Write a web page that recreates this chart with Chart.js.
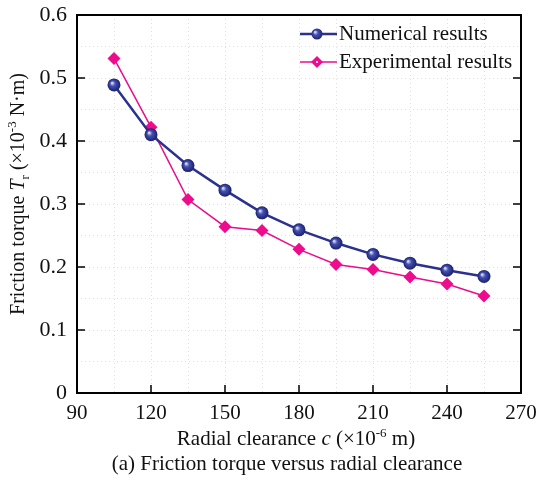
<!DOCTYPE html>
<html>
<head>
<meta charset="utf-8">
<script src="https://cdn.jsdelivr.net/npm/chart.js@4.4.1/dist/chart.umd.min.js"></script>
<style>
  html, body { margin: 0; padding: 0; background: #fff; }
  #wrap { width: 537px; height: 480px; }
</style>
</head>
<body>
<div id="wrap"><canvas id="torqueChart" width="537" height="480"></canvas></div>
<script>
// radial clearance c (x10^-6 m)
const clearance = [105, 120, 135, 150, 165, 180, 195, 210, 225, 240, 255];
// friction torque (x10^-3 N.m)
const numerical = [0.489, 0.410, 0.361, 0.322, 0.286, 0.259, 0.238, 0.220, 0.206, 0.195, 0.185];
const experimental = [0.531, 0.422, 0.307, 0.264, 0.258, 0.228, 0.204, 0.196, 0.184, 0.173, 0.154];
const xTicks = [90, 120, 150, 180, 210, 240, 270];
const yTicks = [0, 0.1, 0.2, 0.3, 0.4, 0.5, 0.6];

const SERIF = '"Liberation Serif", "DejaVu Serif", serif';
const navy = '#2b3190';
const magenta = '#ec0c8c';

function toPoints(xs, ys) {
  return xs.map((x, i) => ({ x: x, y: ys[i] }));
}

function ballFill(ctx) {
  const ch = ctx.chart;
  if (!ch.scales || !ch.scales.x || !ctx.parsed) return navy;
  const px = ch.scales.x.getPixelForValue(ctx.parsed.x);
  const py = ch.scales.y.getPixelForValue(ctx.parsed.y);
  if (!isFinite(px) || !isFinite(py)) return navy;
  return sphere(ch.ctx, px, py, 6.5);
}

function sphere(c, px, py, r) {
  const g = c.createRadialGradient(px - 2, py - 2, 0.5, px, py, r);
  g.addColorStop(0, '#d6dbf5');
  g.addColorStop(0.35, '#4450b4');
  g.addColorStop(1, '#1b206a');
  return g;
}

// draws text pieces one after another (sub/superscripts, italics)
function richText(c, parts, x, y, align) {
  let total = 0;
  parts.forEach(p => { c.font = p.font; total += c.measureText(p.text).width; });
  let cx = align === 'center' ? x - total / 2 : x;
  parts.forEach(p => {
    c.font = p.font;
    c.fillText(p.text, cx, y + (p.dy || 0));
    cx += c.measureText(p.text).width;
  });
}

const big = '21px ' + SERIF;
const bigIt = 'italic 21px ' + SERIF;
const small = '13px ' + SERIF;

const decorations = {
  id: 'decorations',
  afterDraw(chart) {
    const c = chart.ctx;
    const a = chart.chartArea;
    const xs = chart.scales.x, ys = chart.scales.y;
    c.save();
    c.strokeStyle = '#000';
    c.lineWidth = 2;
    c.strokeRect(a.left, a.top, a.right - a.left, a.bottom - a.top);

    // inward tick marks
    c.lineWidth = 1.5;
    c.beginPath();
    xTicks.forEach(v => {
      const px = xs.getPixelForValue(v);
      c.moveTo(px, a.bottom); c.lineTo(px, a.bottom - 8);
    });
    yTicks.forEach(v => {
      const py = ys.getPixelForValue(v);
      c.moveTo(a.left, py); c.lineTo(a.left + 8, py);
      c.moveTo(a.right, py); c.lineTo(a.right - 8, py);
    });
    c.stroke();

    c.fillStyle = '#111';
    c.textBaseline = 'alphabetic';

    // x title
    richText(c, [
      { text: 'Radial clearance ', font: big },
      { text: 'c', font: bigIt },
      { text: ' (×10', font: big },
      { text: '-6', font: small, dy: -8 },
      { text: ' m)', font: big }
    ], 296, 445, 'center');

    // caption
    c.font = big;
    c.textAlign = 'center';
    c.fillText('(a) Friction torque versus radial clearance', 287, 470);
    c.textAlign = 'left';

    // y title
    c.save();
    c.translate(24, 194);
    c.rotate(-Math.PI / 2);
    richText(c, [
      { text: 'Friction torque ', font: '20px ' + SERIF },
      { text: 'T', font: 'italic 20px ' + SERIF },
      { text: 'r', font: small, dy: 5 },
      { text: ' (×10', font: '20px ' + SERIF },
      { text: '-3', font: small, dy: -8 },
      { text: ' N·m)', font: '20px ' + SERIF }
    ], 0, 0, 'center');
    c.restore();

    // legend
    const rows = [
      { y: 34, ds: chart.data.datasets[0] },
      { y: 62, ds: chart.data.datasets[1] }
    ];
    rows.forEach((r, i) => {
      c.strokeStyle = r.ds.borderColor;
      c.lineWidth = r.ds.borderWidth;
      c.beginPath();
      c.moveTo(300, r.y); c.lineTo(337, r.y);
      c.stroke();
      if (i === 0) {
        c.fillStyle = sphere(c, 317, r.y, 6);
        c.beginPath(); c.arc(317, r.y, 5.5, 0, Math.PI * 2); c.fill();
      } else {
        c.fillStyle = magenta;
        c.beginPath();
        c.moveTo(317, r.y - 6); c.lineTo(323, r.y); c.lineTo(317, r.y + 6); c.lineTo(311, r.y);
        c.closePath(); c.fill();
        c.fillStyle = '#ffd0ea';
        c.fillRect(316, r.y - 1, 2, 2);
      }
      c.fillStyle = '#111';
      c.font = big;
      c.textBaseline = 'middle';
      c.fillText(r.ds.label, 339, r.y);
    });
    c.restore();
  }
};

new Chart(document.getElementById('torqueChart'), {
  type: 'line',
  data: {
    datasets: [
      {
        label: 'Numerical results',
        data: toPoints(clearance, numerical),
        borderColor: navy,
        borderWidth: 2.5,
        pointStyle: 'circle',
        pointRadius: 6.5,
        pointBorderWidth: 0,
        pointBackgroundColor: ballFill,
        tension: 0
      },
      {
        label: 'Experimental results',
        data: toPoints(clearance, experimental),
        borderColor: magenta,
        borderWidth: 1.5,
        pointStyle: 'rectRot',
        pointRadius: 6.5,
        pointBorderWidth: 0,
        pointBackgroundColor: magenta,
        tension: 0
      }
    ]
  },
  options: {
    responsive: false,
    animation: false,
    devicePixelRatio: 1,
    layout: { padding: { left: 0, right: 16, top: 15, bottom: 0 } },
    plugins: {
      legend: { display: false },
      tooltip: { enabled: false }
    },
    scales: {
      x: {
        type: 'linear',
        min: 90,
        max: 270,
        afterFit: s => { s.height = 87; s.paddingLeft = 0; s.paddingRight = 0; },
        ticks: {
          stepSize: 15,
          padding: 8,
          maxRotation: 0,
          autoSkip: false,
          color: '#111',
          font: { family: SERIF, size: 21 },
          callback: v => (v % 30 === 0 ? String(v) : '')
        },
        grid: { color: '#cfe6ec', lineWidth: 1, drawTicks: false },
        border: { display: false, dash: [1, 3] }
      },
      y: {
        min: 0,
        max: 0.6,
        afterFit: s => { s.width = 77; s.paddingTop = 0; s.paddingBottom = 0; },
        ticks: {
          stepSize: 0.05,
          padding: 10,
          autoSkip: false,
          color: '#111',
          font: { family: SERIF, size: 22 },
          callback: v => {
            const t = Math.round(v * 100);
            return t % 10 === 0 ? String(t / 100) : '';
          }
        },
        grid: { color: '#cfe6ec', lineWidth: 1, drawTicks: false },
        border: { display: false, dash: [1, 3] }
      }
    }
  },
  plugins: [decorations]
});
</script>
</body>
</html>
